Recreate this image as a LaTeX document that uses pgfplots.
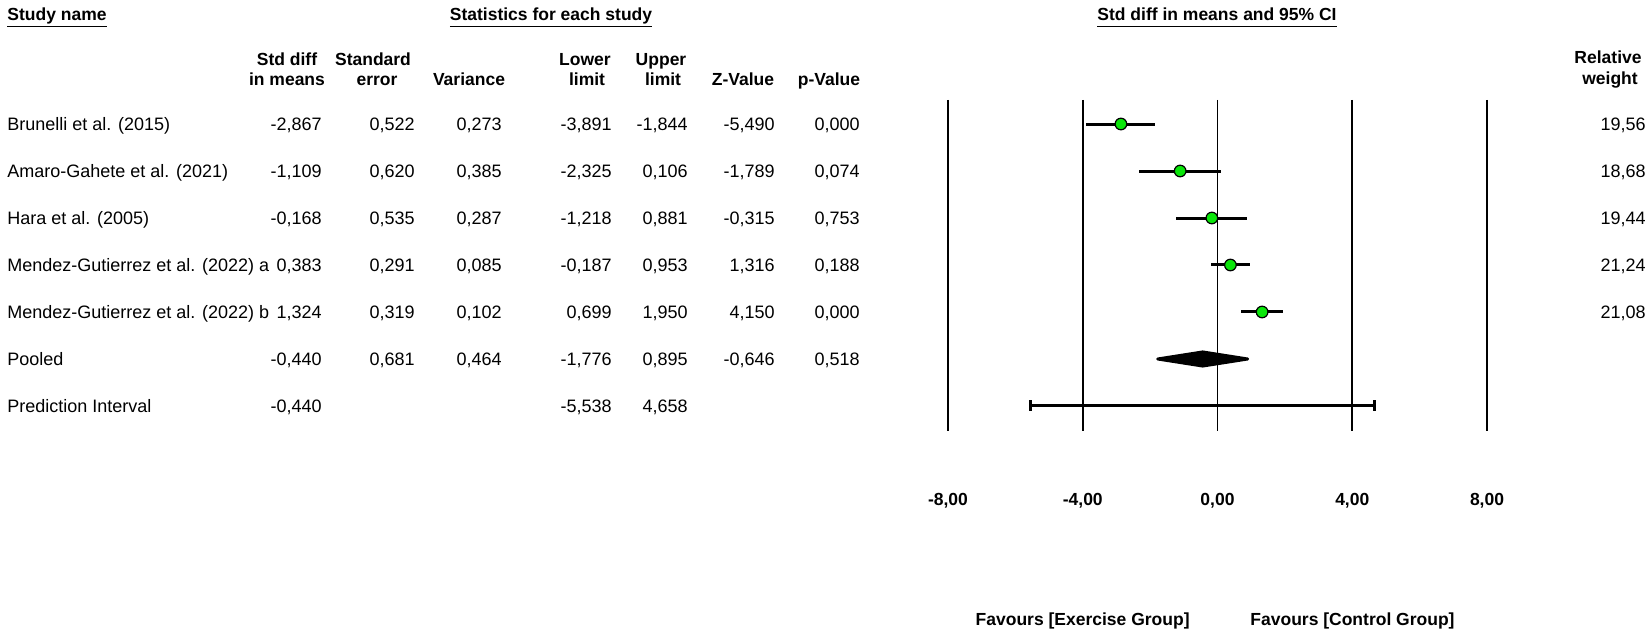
\documentclass[border=0pt]{standalone}
\usepackage{pgfplots}
\pgfplotsset{compat=1.18}
\usepackage{pgfplotstable}
\usepackage{fontspec}
\setmainfont{Liberation Sans}
\definecolor{ptgreen}{RGB}{10,230,10}
\newcommand\bodyf{\fontsize{9}{11}\selectfont}
\newcommand\headf{\fontsize{8.75}{10.5}\selectfont\bfseries}
\newcommand\ul[1]{\setbox0\hbox{#1}\rlap{\rule[-3.2pt]{\wd0}{0.9pt}}\box0}

\pgfplotstableread{
row mean lower upper
1 -2.867 -3.891 -1.844
2 -1.109 -2.325 0.106
3 -0.168 -1.218 0.881
4 0.383 -0.187 0.953
5 1.324 0.699 1.950
}\studies

\pgfplotstableread{
x y
-1.776 6
-0.440 5.85
0.895 6
-0.440 6.15
}\pooled

\pgfplotstableread{
x y
-5.538 7
4.658 7
}\predint

\newcommand\rowvals[9]{%
 \node[val] at (322,#1) {#2};
 \node[val] at (415,#1) {#3};
 \node[val] at (502,#1) {#4};
 \node[val] at (612,#1) {#5};
 \node[val] at (688,#1) {#6};
 \node[val] at (775,#1) {#7};
 \node[val] at (860,#1) {#8};
 \node[val] at (1646,#1) {#9};
}

\begin{document}
\begin{tikzpicture}[x=0.5pt,y=0.5pt,
  val/.style={anchor=base east, inner sep=0pt, font=\bodyf},
  lab/.style={anchor=base west, inner sep=0pt, font=\bodyf},
  hd/.style={anchor=base, inner sep=0pt, font=\headf}]
\path[use as bounding box] (0,0) rectangle (1652,635);

% section titles
\node[anchor=base west, inner sep=0pt, font=\headf] at (7,614) {\ul{Study name}};
\node[hd] at (551,614) {\ul{Statistics for each study}};
\node[hd] at (1217,614) {\ul{Std diff in means and 95\% CI}};

% column headers
\node[hd] at (287,569) {Std diff};
\node[hd] at (287,549) {in means};
\node[hd] at (373,569) {Standard};
\node[hd] at (377,549) {error};
\node[hd] at (469,549) {Variance};
\node[hd] at (585,569) {Lower};
\node[hd] at (587,549) {limit};
\node[hd] at (661,569) {Upper};
\node[hd] at (663,549) {limit};
\node[hd] at (743,549) {Z-Value};
\node[hd] at (829,549) {p-Value};
\node[hd] at (1608,571) {Relative};
\node[hd] at (1610,550) {weight};

% row labels
\node[lab] at (7,504.5) {Brunelli et al. (2015)};
\node[lab] at (7,457.5) {Amaro-Gahete et al. (2021)};
\node[lab] at (7,410.5) {Hara et al. (2005)};
\node[lab] at (7,363.5) {Mendez-Gutierrez et al. (2022) a};
\node[lab] at (7,316.5) {Mendez-Gutierrez et al. (2022) b};
\node[lab] at (7,269.5) {Pooled};
\node[lab] at (7,222.5) {Prediction Interval};

\rowvals{504.5}{-2,867}{0,522}{0,273}{-3,891}{-1,844}{-5,490}{0,000}{19,56}
\rowvals{457.5}{-1,109}{0,620}{0,385}{-2,325}{0,106}{-1,789}{0,074}{18,68}
\rowvals{410.5}{-0,168}{0,535}{0,287}{-1,218}{0,881}{-0,315}{0,753}{19,44}
\rowvals{363.5}{0,383}{0,291}{0,085}{-0,187}{0,953}{1,316}{0,188}{21,24}
\rowvals{316.5}{1,324}{0,319}{0,102}{0,699}{1,950}{4,150}{0,000}{21,08}
\rowvals{269.5}{-0,440}{0,681}{0,464}{-1,776}{0,895}{-0,646}{0,518}{}
\rowvals{222.5}{-0,440}{}{}{-5,538}{4,658}{}{}{}

% favours
\node[anchor=base east, inner sep=0pt, font=\headf] at (1190,9) {Favours [Exercise Group]};
\node[anchor=base west, inner sep=0pt, font=\headf] at (1250,9) {Favours [Control Group]};

\begin{axis}[
  at={(474pt,102pt)}, anchor=south west,
  width=269.5pt, height=165.5pt, scale only axis,
  xmin=-8, xmax=8, ymin=0.489, ymax=7.532, y dir=reverse,
  axis line style={draw=none},
  ytick=\empty,
  xtick={-8,-4,0,4,8},
  xticklabels={{-8,00},{-4,00},{0,00},{4,00},{8,00}},
  xticklabel style={font=\headf, anchor=base, yshift=-37.5pt},
  major tick length=0pt,
  xmajorgrids,
  grid style={black, line width=0.9pt},
  clip=false,
]
\addplot[draw=none, mark=none, forget plot,
  error bars/.cd, x dir=both, x explicit,
  error bar style={black, line width=1.5pt, solid},
  error mark=none]
  table[x=mean, y=row,
        x error plus expr=\thisrow{upper}-\thisrow{mean},
        x error minus expr=\thisrow{mean}-\thisrow{lower}] {\studies};
\addplot[only marks, mark=*, mark size=2.9pt,
  mark options={fill=ptgreen, draw=black, line width=0.6pt}]
  table[x=mean, y=row] {\studies};
\addplot[fill=black, draw=black, line width=1.5pt, line join=round] table[x=x, y=y] {\pooled} -- cycle;
\addplot[black, line width=1.5pt, mark=|, mark size=2.75pt] table[x=x, y=y] {\predint};
\end{axis}
\end{tikzpicture}
\end{document}
